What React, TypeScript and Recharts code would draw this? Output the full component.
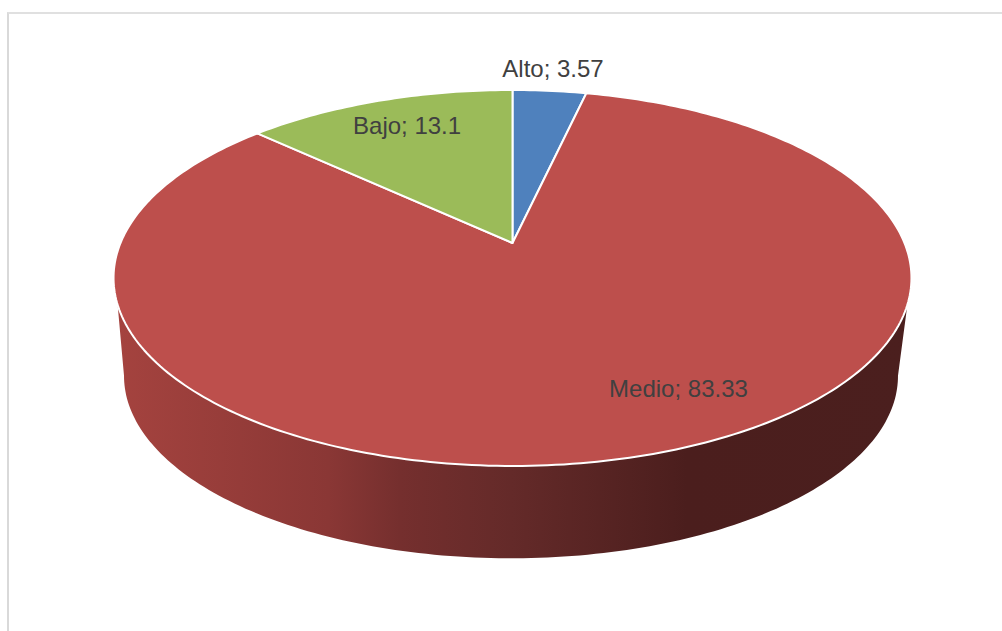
import { Pie, PieChart } from 'recharts';

const categories = ['Alto', 'Medio', 'Bajo'];
const values = [3.57, 83.33, 13.1];
const colors = ['#4f81bd', '#bd4f4c', '#9bbb59'];

const pieData = categories.map((name, i) => ({ name, value: values[i], fill: colors[i] }));

// label placement: radius factor along the slice's mid angle, plus a sideways nudge
const labelRadius = [1.18, 0.73, 0.8];
const labelNudge = [-2, 69, 5];

// perspective of the tilted disc
const TILT = 0.186;
const SQUASH = 0.463;
const WALL_SCALE = 0.97;
const WALL_DROP = 99;
// clockwise degrees from 12 o'clock where the side wall starts and ends
const WALL_TOP = [108.7, 251.3];
const WALL_BOTTOM = [100.7, 259.3];

const wallStops = [
  [0, '#a5433f'],
  [0.27, '#8a3735'],
  [0.36, '#752f2e'],
  [0.5, '#642a29'],
  [0.72, '#4b1e1d'],
  [1, '#4b1f1e'],
];

function project(cx: number, cy: number, radius: number, clockDeg: number, r = 1) {
  const t = (clockDeg * Math.PI) / 180;
  const u = r * Math.sin(t);
  const v = r * Math.cos(t);
  const w = 1 + TILT * v;
  return [cx + (radius * u) / w, cy - (radius * SQUASH * v) / w];
}

function arcPoints(cx: number, cy: number, radius: number, from: number, to: number) {
  const steps = Math.max(2, Math.ceil(Math.abs(to - from)));
  const pts = [];
  for (let i = 0; i <= steps; i++) {
    pts.push(project(cx, cy, radius, from + ((to - from) * i) / steps));
  }
  return pts;
}

const toPath = (pts: number[][]) =>
  pts.map((p, i) => `${i === 0 ? 'M' : 'L'}${p[0].toFixed(2)},${p[1].toFixed(2)}`).join(' ');

function DiscSlice(props: any) {
  const { cx, cy, outerRadius, startAngle, endAngle, fill } = props;
  const from = 90 - startAngle;
  const to = 90 - endAngle;
  const rim = arcPoints(cx, cy, outerRadius, from, to);
  const top = `${toPath([[cx, cy], ...rim])} Z`;

  const hasWall = from < WALL_TOP[0] && to > WALL_TOP[1];
  let wall = '';
  if (hasWall) {
    const upper = arcPoints(cx, cy, outerRadius, WALL_TOP[0], WALL_TOP[1]);
    const lower = arcPoints(cx - 1.5, cy + WALL_DROP, outerRadius * WALL_SCALE, WALL_BOTTOM[1], WALL_BOTTOM[0]);
    wall = `${toPath([...upper, ...lower])} Z`;
  }

  return (
    <g>
      {hasWall && (
        <>
          <defs>
            <linearGradient id="wallShade" gradientUnits="userSpaceOnUse" x1={113} x2={910} y1={0} y2={0}>
              {wallStops.map(([offset, color]) => (
                <stop key={offset} offset={offset} stopColor={color as string} />
              ))}
            </linearGradient>
          </defs>
          <path d={wall} fill="url(#wallShade)" />
        </>
      )}
      <path d={top} fill={fill} stroke="#ffffff" strokeWidth={2} strokeLinejoin="round" />
    </g>
  );
}

function sliceLabel(props: any) {
  const { cx, cy, outerRadius, midAngle, name, value, index } = props;
  const [x, y] = project(cx, cy, outerRadius, 90 - midAngle, labelRadius[index]);
  return (
    <text
      x={x + labelNudge[index]}
      y={y}
      textAnchor="middle"
      dominantBaseline="central"
      fontFamily="'Liberation Sans', Arial, sans-serif"
      fontSize={24}
      fill="#404040"
    >
      {`${name}; ${value}`}
    </text>
  );
}

export default function App() {
  return (
    <div style={{ position: 'absolute', left: 0, top: 0, width: 1002, height: 631, background: '#ffffff', overflow: 'hidden' }}>
      <div
        style={{
          position: 'absolute',
          left: 7,
          top: 12,
          width: 995,
          height: 619,
          borderTop: '2px solid #e0e0e0',
          borderLeft: '2px solid #d9d9d9',
          boxSizing: 'border-box',
        }}
      />
      <div style={{ position: 'absolute', left: 0, top: 0 }}>
        <PieChart width={1002} height={631} margin={{ top: 0, right: 0, bottom: 0, left: 0 }}>
          <Pie
            data={pieData}
            dataKey="value"
            nameKey="name"
            cx={512.5}
            cy={243}
            innerRadius={0}
            outerRadius={392}
            startAngle={90}
            endAngle={-270}
            stroke="none"
            shape={DiscSlice}
            label={sliceLabel}
            labelLine={false}
            isAnimationActive={false}
          />
        </PieChart>
      </div>
    </div>
  );
}
